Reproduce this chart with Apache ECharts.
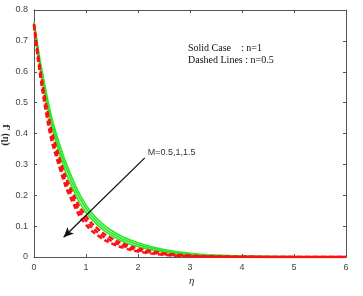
<!DOCTYPE html>
<html><head><meta charset="utf-8">
<script src="https://cdn.jsdelivr.net/npm/echarts@6/dist/echarts.min.js"></script>
<style>html,body{margin:0;padding:0;background:#fff}#c{width:363px;height:296px}</style>
</head><body><div id="c"></div>
<script>
const eta = [0, 0.25, 0.5, 0.75, 1, 1.25, 1.5, 1.75, 2, 2.5, 3, 3.5, 4, 5, 6];
const solidM05 = [0.76, 0.52, 0.36, 0.25, 0.168, 0.118, 0.085, 0.062, 0.046, 0.024, 0.012, 0.006, 0.003, 0.001, 0];
const solidM10 = [0.76, 0.505, 0.345, 0.235, 0.157, 0.108, 0.077, 0.055, 0.040, 0.020, 0.009, 0.004, 0.002, 0.0005, 0];
const solidM15 = [0.755, 0.49, 0.33, 0.22, 0.145, 0.099, 0.069, 0.048, 0.034, 0.016, 0.007, 0.003, 0.0015, 0.0003, 0];
const dashM05 = [0.755, 0.48, 0.315, 0.205, 0.132, 0.088, 0.060, 0.041, 0.028, 0.012, 0.005, 0.002, 0.001, 0, 0];
const dashM10 = [0.75, 0.465, 0.30, 0.19, 0.118, 0.077, 0.051, 0.034, 0.022, 0.009, 0.003, 0.001, 0.0005, 0, 0];
const dashM15 = [0.75, 0.45, 0.285, 0.175, 0.105, 0.067, 0.043, 0.028, 0.018, 0.007, 0.002, 0.001, 0, 0, 0];
const xTicks = [0, 1, 2, 3, 4, 5, 6];
const yTicks = [0, 0.1, 0.2, 0.3, 0.4, 0.5, 0.6, 0.7, 0.8];
const arrowFrom = [2.13, 0.321];
const arrowTo = [0.57, 0.064];
const arrowLabel = 'M=0.5,1,1.5';

const chart = echarts.init(document.getElementById('c'));
const pts = a => eta.map((x, i) => [x, a[i]]);
const solid = (name, d) => ({type:'line', name, data:pts(d), smooth:true, showSymbol:false,
  lineStyle:{color:'#2ee82e', width:1.7}, z:2});
const dashed = (name, d) => ({type:'line', name, data:pts(d), smooth:true, showSymbol:false,
  lineStyle:{color:'#ff1010', width:2.5, type:[5,3]}, z:3});
const axisCommon = {
  axisLine:{show:true, onZero:false, lineStyle:{color:'#555', width:1}},
  axisTick:{show:true, inside:true, length:3, lineStyle:{color:'#555'}},
  splitLine:{show:false}
};
chart.setOption({
  animation:false,
  grid:{left:34, right:17, top:10, bottom:39},
  xAxis:[
    Object.assign({type:'value', min:0, max:6, interval:1, position:'bottom',
      axisLabel:{color:'#444', fontSize:9, fontFamily:'Liberation Sans', margin:6}}, axisCommon),
    Object.assign({type:'value', min:0, max:6, interval:1, position:'top',
      axisLabel:{show:false}}, axisCommon)
  ],
  yAxis:[
    Object.assign({type:'value', min:0, max:0.8, interval:0.1, position:'left',
      axisLabel:{color:'#444', fontSize:9, fontFamily:'Liberation Sans', margin:6,
        formatter:v => yTicks.includes(Math.round(v*10)/10) ? String(Math.round(v*10)/10) : ''}}, axisCommon),
    Object.assign({type:'value', min:0, max:0.8, interval:0.1, position:'right',
      axisLabel:{show:false}}, axisCommon)
  ],
  series:[
    solid('n=1, M=0.5', solidM05), solid('n=1, M=1', solidM10), solid('n=1, M=1.5', solidM15),
    dashed('n=0.5, M=0.5', dashM05), dashed('n=0.5, M=1', dashM10), dashed('n=0.5, M=1.5', dashM15),
    {type:'line', data:[], markLine:{silent:true, symbol:['none','arrow'], symbolSize:[7,10],
      lineStyle:{color:'#111', width:1.3, type:'solid'}, label:{show:false},
      data:[[{coord:arrowFrom},{coord:arrowTo}]]}}
  ]
});
const p = chart.convertToPixel({xAxisIndex:0, yAxisIndex:0}, arrowFrom);
chart.setOption({graphic:[
  {type:'text', left:p[0]+3, top:p[1]-10, style:{text:arrowLabel, fill:'#333', font:'9px Liberation Sans'}},
  {type:'text', left:188, top:43, style:{text:'Solid Case    : n=1', fill:'#111', font:'10px Liberation Serif'}},
  {type:'text', left:188, top:55, style:{text:'Dashed Lines : n=0.5', fill:'#111', font:'10px Liberation Serif'}},
  {type:'text', left:189, top:276, style:{text:'η', fill:'#333', font:'italic 11px Liberation Serif'}},
  {type:'text', x:6, y:135, rotation:-Math.PI/2, style:{text:"f' (η)", fill:'#222', font:'bold 10px Liberation Serif', align:'center', verticalAlign:'middle'}}
]});
</script></body></html>
